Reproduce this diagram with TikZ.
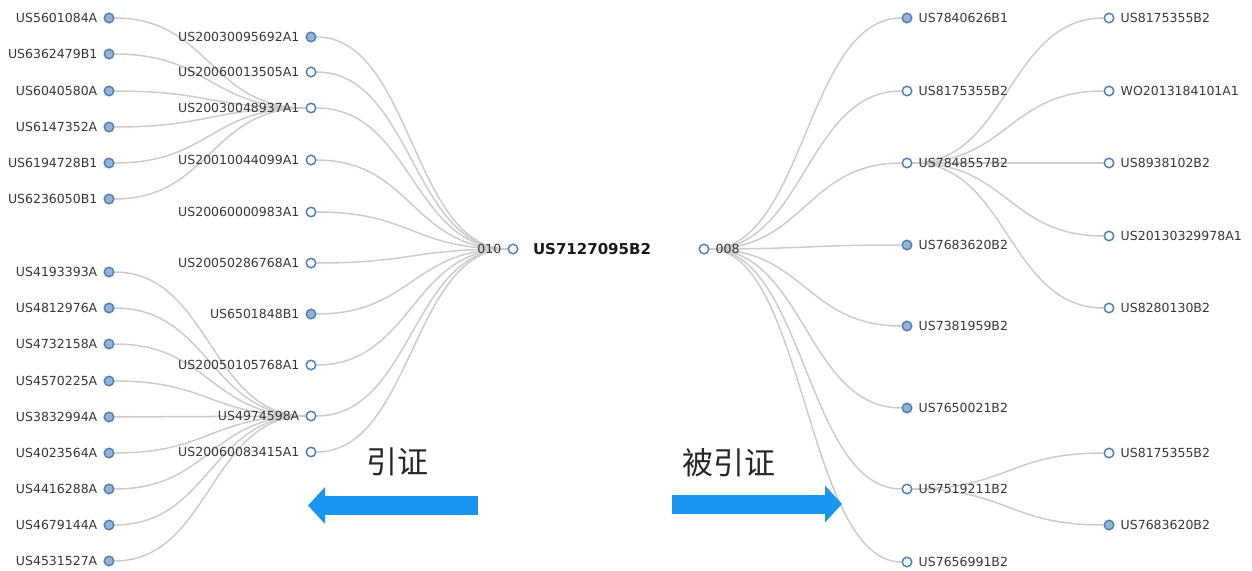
\documentclass[tikz,border=0pt]{standalone}
\usepackage{fontspec}
\setmainfont{DejaVu Sans}
\newfontfamily\cjkfont{Noto Sans CJK SC}
\usepackage{tikz}
\usetikzlibrary{arrows.meta, backgrounds}

\definecolor{steel}{RGB}{80,130,180}
\definecolor{steelfill}{RGB}{150,178,214}
\definecolor{linkgray}{RGB}{204,204,204}
\definecolor{labelgray}{RGB}{55,55,55}
\definecolor{arrowblue}{RGB}{24,150,242}

\begin{document}
\begin{tikzpicture}[x=1pt, y=-1pt,
        dot/.style={circle, draw=steel, line width=1.5pt, fill=white, minimum size=9.5pt, inner sep=0pt},
        dotfull/.style={dot, fill=steelfill},
        lbl/.style={text=labelgray, font=\fontsize{12.5}{14}\selectfont, inner sep=0pt},
        link/.style={draw=linkgray, line width=1.5pt},
        bigarrow/.style={draw=arrowblue, line width=19pt, -{Triangle[length=17pt, width=36pt]}}]
        \useasboundingbox (0,0) rectangle (1252,570);

        % Second-level cited patents (left column)
        \foreach \nm/\yy/\txt in {l1/18/US5601084A, l2/54/US6362479B1, l3/91/US6040580A,
                l4/127/US6147352A, l5/163/US6194728B1, l6/199/US6236050B1,
                l7/272/US4193393A, l8/308/US4812976A, l9/344/US4732158A,
                l10/381/US4570225A, l11/417/US3832994A, l12/453/US4023564A,
                l13/489/US4416288A, l14/525/US4679144A, l15/561/US4531527A}
            \node[dotfull, label={[lbl, label distance=6pt]left:\txt}] (\nm) at (109,\yy) {};

        % Directly cited patents (middle left column)
        \foreach \nm/\yy/\txt/\sty in {m1/37/US20030095692A1/dotfull, m2/72/US20060013505A1/dot,
                m3/108/US20030048937A1/dot, m4/160/US20010044099A1/dot,
                m5/212/US20060000983A1/dot, m6/263/US20050286768A1/dot,
                m7/314/US6501848B1/dotfull, m8/365/US20050105768A1/dot,
                m9/416/US4974598A/dot, m10/452/US20060083415A1/dot}
            \node[\sty, label={[lbl, label distance=6pt]left:\txt}] (\nm) at (311,\yy) {};

        % Root patent with its two counters
        \node[dot, label={[lbl, label distance=6pt]left:010}] (cit) at (513,249) {};
        \node[font=\bfseries\fontsize{15}{18}\selectfont, text=black!90] (main) at (592,249) {US7127095B2};
        \node[dot, label={[lbl, label distance=6pt]right:008}] (citby) at (704,249) {};

        % Citing patents (middle right column)
        \foreach \nm/\yy/\txt/\sty in {r1/18/US7840626B1/dotfull, r2/91/US8175355B2/dot,
                r3/163/US7848557B2/dot, r4/245/US7683620B2/dotfull,
                r5/326/US7381959B2/dotfull, r6/408/US7650021B2/dotfull,
                r7/489/US7519211B2/dot, r8/562/US7656991B2/dot}
            \node[\sty, label={[lbl, label distance=6pt]right:\txt}] (\nm) at (907,\yy) {};

        % Second-level citing patents (right column)
        \foreach \nm/\yy/\txt/\sty in {s1/18/US8175355B2/dot, s2/91/WO2013184101A1/dot,
                s3/163/US8938102B2/dot, s4/236/US20130329978A1/dot,
                s5/308/US8280130B2/dot, s6/453/US8175355B2/dot,
                s7/525/US7683620B2/dotfull}
            \node[\sty, label={[lbl, label distance=6pt]right:\txt}] (\nm) at (1109,\yy) {};

        % Tree links, kept behind the labels
        \begin{scope}[on background layer]
        \foreach \a/\b in {l1/m3, l2/m3, l3/m3, l4/m3, l5/m3, l6/m3,
                l7/m9, l8/m9, l9/m9, l10/m9, l11/m9, l12/m9, l13/m9, l14/m9, l15/m9,
                m1/cit, m2/cit, m3/cit, m4/cit, m5/cit, m6/cit, m7/cit, m8/cit, m9/cit, m10/cit,
                citby/r1, citby/r2, citby/r3, citby/r4, citby/r5, citby/r6, citby/r7, citby/r8,
                r3/s1, r3/s2, r3/s3, r3/s4, r3/s5, r7/s6, r7/s7}
            \draw[link] (\a) .. controls +(101,0) and +(-101,0) .. (\b);
        \end{scope}

        % Direction captions
        \node[font=\cjkfont\fontsize{31}{31}\selectfont, text=black!85] (cite) at (397,462) {引证};
        \node[font=\cjkfont\fontsize{31}{31}\selectfont, text=black!85] (citedby) at (729,463) {被引证};

        % Big blue arrows
        \coordinate (citeTail) at (478,505.5);
        \coordinate (citeTip) at (308,505.5);
        \draw[bigarrow] (citeTail) -- (citeTip);
        \coordinate (citedTail) at (672,504);
        \coordinate (citedTip) at (842,504);
        \draw[bigarrow] (citedTail) -- (citedTip);
\end{tikzpicture}
\end{document}
